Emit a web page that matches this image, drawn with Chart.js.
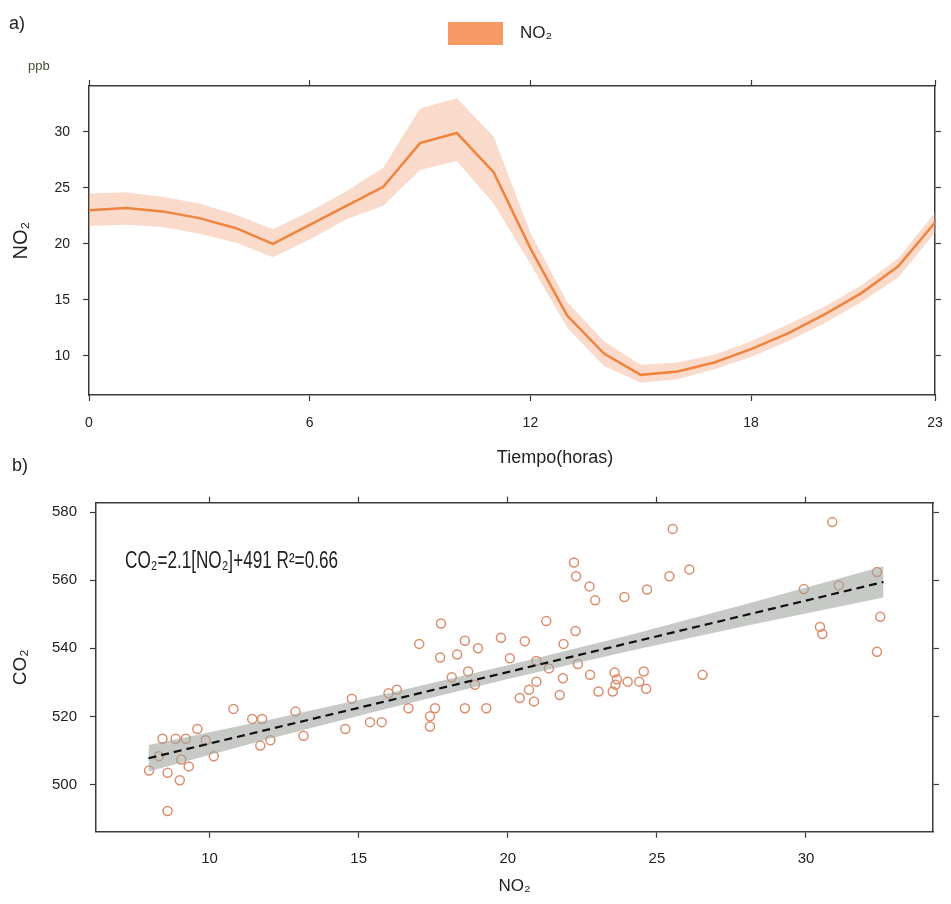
<!DOCTYPE html>
<html>
<head>
<meta charset="utf-8">
<script src="https://cdn.jsdelivr.net/npm/chart.js@4.4.0/dist/chart.umd.min.js"></script>
<style>
  body { margin: 0; background: #fff; }
  #wrap { position: relative; width: 951px; height: 904px; }
  canvas { position: absolute; left: 0; }
  #hourly { top: 0; }
  #scatter { top: 440px; }
</style>
</head>
<body>
<div id="wrap">
  <canvas id="hourly" width="951" height="470"></canvas>
  <canvas id="scatter" width="951" height="464"></canvas>
</div>
<script>
// a) daily NO2 cycle
const hours = [0, 1, 2, 3, 4, 5, 6, 7, 8, 9, 10, 11, 12, 13, 14, 15, 16, 17, 18, 19, 20, 21, 22, 23];
const no2Mean = [23.0, 23.2, 22.9, 22.3, 21.4, 20.0, 21.7, 23.4, 25.1, 29.0, 29.9, 26.4, 19.6, 13.6, 10.2, 8.3, 8.6, 9.4, 10.6, 12.0, 13.7, 15.6, 18.0, 21.9];
const no2Upper = [24.5, 24.6, 24.2, 23.6, 22.6, 21.3, 22.9, 24.7, 26.8, 32.1, 33.0, 29.6, 21.0, 14.8, 11.3, 9.2, 9.4, 10.1, 11.3, 12.8, 14.4, 16.3, 18.7, 22.8];
const no2Lower = [21.6, 21.7, 21.5, 20.9, 20.1, 18.8, 20.4, 22.2, 23.4, 26.6, 27.4, 23.6, 18.2, 12.5, 9.1, 7.6, 7.9, 8.8, 9.9, 11.3, 12.9, 14.8, 17.0, 21.0];
const hourTicks = [0, 6, 12, 18, 23];
const no2Ticks = [10, 15, 20, 25, 30];

// b) CO2 vs NO2
const scatterNo2 = [7.97, 8.59, 9.0, 8.59, 8.42, 8.86, 9.2, 8.3, 9.05, 9.3, 9.59, 9.87, 10.14, 10.8, 11.43, 11.76, 11.7, 12.04, 12.88, 13.15,
  14.55, 14.77, 15.38, 15.77, 16.0, 16.28, 16.67, 17.03, 17.39, 17.56, 17.39, 17.76, 17.73, 18.12, 18.3, 18.56, 18.56, 18.67, 18.9, 19.0,
  19.28, 19.77, 20.07, 20.4, 20.57, 20.71, 20.88, 20.96, 20.96, 21.29, 21.38, 21.74, 21.85, 21.87, 22.22, 22.29, 22.27, 22.35, 22.74, 22.76,
  22.93, 23.04, 23.58, 23.66, 23.61, 23.52, 23.91, 24.02, 24.41, 24.56, 24.64, 24.67, 25.42, 25.53, 26.09, 26.53, 29.93, 30.88, 31.1, 30.47,
  30.55, 32.38, 32.49, 32.38];
const scatterCo2 = [504.1, 503.4, 501.2, 492.2, 513.4, 513.4, 513.4, 508.3, 507.3, 505.3, 516.3, 513.0, 508.3, 522.2, 519.2, 519.2, 511.4, 513.0, 521.4, 514.3,
  516.3, 525.2, 518.3, 518.3, 526.8, 527.8, 522.4, 541.3, 520.0, 522.4, 517.0, 547.3, 537.3, 531.5, 538.2, 542.2, 522.4, 533.2, 529.3, 540.0,
  522.4, 543.1, 537.1, 525.4, 542.1, 527.8, 524.4, 536.3, 530.2, 548.0, 534.1, 526.3, 531.2, 541.3, 565.2, 561.2, 545.1, 535.4, 558.2, 532.2,
  554.1, 527.3, 532.9, 530.9, 529.3, 527.3, 555.1, 530.2, 530.2, 533.2, 528.1, 557.3, 561.2, 575.1, 563.2, 532.2, 557.4, 577.1, 558.5, 546.3,
  544.2, 562.4, 549.3, 539.0];
const fitNo2 = [7.95, 32.6];
const fitCo2 = [507.7, 559.5];
const bandNo2 = [7.95, 12, 16, 20, 24, 28, 32.6];
const bandUpper = [511.6, 519.0, 526.8, 535.0, 543.7, 553.0, 564.1];
const bandLower = [503.8, 513.4, 522.4, 531.0, 539.1, 546.6, 554.9];
const co2Ticks = [500, 520, 540, 560, 580];
const no2AxisTicks = [10, 15, 20, 25, 30];
const equation = "CO₂=2.1[NO₂]+491 R²=0.66";

const ink = "#222";
const frame = "#3a3a3a";
const family = '"Liberation Sans", Arial, sans-serif';

Chart.defaults.font.family = family;
Chart.defaults.color = ink;

const pts = (xs, ys) => xs.map((x, i) => ({ x, y: ys[i] }));
const fixTicks = list => scale => { scale.ticks = list.map(v => ({ value: v })); };

// pin an axis box to a fixed thickness, and stop end labels from pushing the plot in
function fixSize(horiz, px) {
  return scale => {
    if (horiz) {
      scale.height = px;
      scale.paddingLeft = 0;
      scale.paddingRight = 0;
    } else {
      scale.width = px;
      scale.paddingTop = 0;
      scale.paddingBottom = 0;
    }
  };
}

function axis(position, min, max, list, size, labels, tickFont, tickPad, extra) {
  const horiz = position === "top" || position === "bottom";
  return Object.assign({
    type: "linear", position, min, max,
    afterBuildTicks: fixTicks(list),
    afterFit: fixSize(horiz, size),
    ticks: { display: labels, autoSkip: false, maxRotation: 0, color: ink, font: { size: tickFont }, padding: tickPad },
    grid: { drawOnChartArea: false, color: frame, tickLength: 6, tickWidth: 1.2 },
    border: { color: frame, width: 1.5 }
  }, extra || {});
}

const hourlyText = {
  id: "hourlyText",
  afterDraw(chart) {
    const ctx = chart.ctx;
    ctx.save();
    ctx.textBaseline = "middle";
    ctx.fillStyle = ink;
    ctx.font = "18px " + family;
    ctx.fillText("a)", 9, 24);
    ctx.fillStyle = "#3d5236";
    ctx.font = "13px " + family;
    ctx.fillText("ppb", 28, 66);
    ctx.fillStyle = "#f59a65";
    ctx.fillRect(448, 22, 55, 23);
    ctx.fillStyle = ink;
    ctx.font = "17px " + family;
    ctx.fillText("NO₂", 520, 33);
    ctx.textAlign = "center";
    ctx.font = "18px " + family;
    ctx.fillText("Tiempo(horas)", 555, 458);
    ctx.restore();
  }
};

new Chart(document.getElementById("hourly"), {
  type: "line",
  data: {
    datasets: [
      { data: pts(hours, no2Mean), borderColor: "#f0843e", borderWidth: 2.5, pointRadius: 0, fill: false, order: 1 },
      { data: pts(hours, no2Upper), borderWidth: 0, pointRadius: 0, fill: "+1", backgroundColor: "rgba(244,170,132,0.42)", order: 2 },
      { data: pts(hours, no2Lower), borderWidth: 0, pointRadius: 0, fill: false, order: 3 }
    ]
  },
  options: {
    responsive: false, animation: false, devicePixelRatio: 1,
    layout: { padding: { left: 5, right: 6, top: 78, bottom: 35 } },
    plugins: { legend: { display: false }, tooltip: { enabled: false } },
    scales: {
      x: axis("bottom", 0, 23, hourTicks, 40, true, 14, 14),
      xTop: axis("top", 0, 23, hourTicks, 8, false, 14, 0),
      y: axis("left", 6.5, 34.1, no2Ticks, 84, true, 14, 13, {
        title: { display: true, text: "NO₂", font: { size: 20 }, color: ink, padding: { top: 4, bottom: 0 } }
      }),
      yRight: axis("right", 6.5, 34.1, no2Ticks, 10, false, 14, 0)
    }
  },
  plugins: [hourlyText]
});

const scatterText = {
  id: "scatterText",
  afterDraw(chart) {
    const ctx = chart.ctx;
    ctx.save();
    ctx.textBaseline = "middle";
    ctx.fillStyle = ink;
    ctx.font = "18px " + family;
    ctx.fillText("b)", 12, 26);
    ctx.font = '23px "Liberation Sans Narrow", ' + family;
    const w = ctx.measureText(equation).width;
    ctx.translate(125, 122);
    ctx.scale(213 / w, 1);
    ctx.fillText(equation, 0, 0);
    ctx.restore();
  }
};

new Chart(document.getElementById("scatter"), {
  type: "scatter",
  data: {
    datasets: [
      { type: "line", data: pts(fitNo2, fitCo2), borderColor: "#111", borderWidth: 2.2, borderDash: [8, 5], pointRadius: 0, fill: false, order: 1 },
      { type: "line", data: pts(bandNo2, bandUpper), borderWidth: 0, pointRadius: 0, fill: "+1", backgroundColor: "rgba(160,165,160,0.6)", order: 2 },
      { type: "line", data: pts(bandNo2, bandLower), borderWidth: 0, pointRadius: 0, fill: false, order: 3 },
      { data: pts(scatterNo2, scatterCo2), pointRadius: 4.5, borderWidth: 1.5, borderColor: "#dc8d6c", backgroundColor: "rgba(0,0,0,0)", order: 4 }
    ]
  },
  options: {
    responsive: false, animation: false, devicePixelRatio: 1,
    layout: { padding: { left: 5, right: 8, top: 54.7, bottom: 2.3 } },
    plugins: { legend: { display: false }, tooltip: { enabled: false } },
    scales: {
      x: axis("bottom", 6.19, 34.26, no2AxisTicks, 70, true, 15, 12, {
        title: { display: true, text: "NO₂", font: { size: 17 }, color: ink, padding: { top: 0, bottom: 5 } }
      }),
      xTop: axis("top", 6.19, 34.26, no2AxisTicks, 8, false, 15, 0),
      y: axis("left", 486.1, 582.8, co2Ticks, 91, true, 15, 13, {
        title: { display: true, text: "CO₂", font: { size: 19 }, color: ink, padding: { top: 4, bottom: 0 } }
      }),
      yRight: axis("right", 486.1, 582.8, co2Ticks, 10, false, 15, 0)
    }
  },
  plugins: [scatterText]
});
</script>
</body>
</html>
